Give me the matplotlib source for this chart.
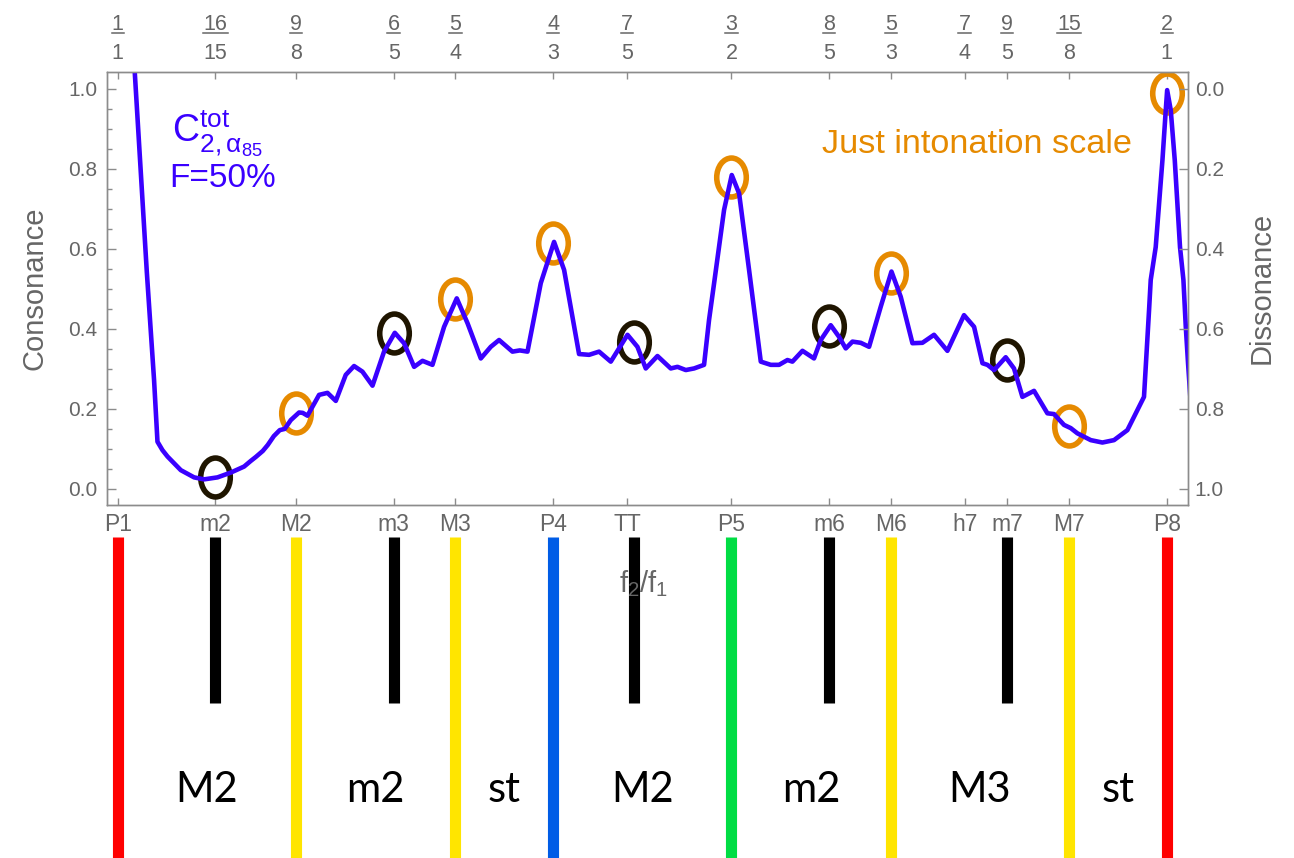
import numpy as np
import matplotlib
matplotlib.use('Agg')
import matplotlib.pyplot as plt
import matplotlib.transforms as transforms
from matplotlib.path import Path

plt.rcParams['font.family'] = ['Liberation Sans', 'DejaVu Sans']
plt.rcParams['mathtext.fontset'] = 'custom'
plt.rcParams['mathtext.rm'] = 'Liberation Sans'
plt.rcParams['mathtext.it'] = 'Liberation Sans:italic'

# total consonance curve, x in cents above f1
Cents = [16.0, 19.4, 33.2, 41.5, 45.4, 51.1, 56.9, 72.1, 87.3, 98.7,
         114.1, 129.3, 144.5, 152.1, 157.9, 165.9, 171.6, 178.5, 185.3, 191.0,
         197.9, 207.4, 211.6, 217.0, 230.3, 239.9, 249.4, 260.8, 270.3, 279.9,
         291.4, 304.6, 316.9, 327.5, 339.0, 348.6, 360.0, 373.3, 387.8, 400.1,
         415.3, 426.7, 436.2, 451.5, 459.9, 468.7, 483.9, 499.1, 510.6, 527.7,
         539.2, 550.6, 564.0, 583.1, 594.5, 604.0, 617.4, 632.6, 640.3, 649.8,
         659.3, 670.7, 676.4, 682.2, 693.6, 702.4, 710.8, 722.2, 735.6, 747.0,
         756.5, 766.1, 771.8, 783.3, 796.5, 804.2, 815.6, 825.1, 832.8, 840.5,
         850.0, 859.5, 872.8, 885.1, 895.7, 909.1, 920.5, 933.8, 949.1, 968.1,
         979.6, 989.2, 994.9, 1002.5, 1015.8, 1025.3, 1034.9, 1048.2, 1063.5, 1071.1,
         1082.5, 1090.2, 1097.8, 1113.1, 1126.4, 1139.7, 1155.0, 1174.0, 1179.8, 1181.7,
         1187.4, 1195.1, 1198.9, 1200.5, 1204.6, 1209.2, 1215.2, 1219.1, 1221.8, 1224.4,
         1227.5]
Consonance = [1.146, 1.041, 0.542, 0.272, 0.118, 0.097, 0.081, 0.047, 0.029, 0.024,
              0.029, 0.041, 0.056, 0.070, 0.080, 0.095, 0.110, 0.132, 0.147, 0.150,
              0.172, 0.191, 0.190, 0.183, 0.235, 0.240, 0.220, 0.285, 0.307, 0.293,
              0.258, 0.343, 0.390, 0.364, 0.305, 0.320, 0.310, 0.405, 0.476, 0.414,
              0.326, 0.355, 0.372, 0.343, 0.346, 0.343, 0.514, 0.617, 0.547, 0.337,
              0.335, 0.343, 0.318, 0.385, 0.355, 0.301, 0.332, 0.301, 0.305, 0.297,
              0.301, 0.310, 0.422, 0.514, 0.697, 0.784, 0.738, 0.547, 0.318, 0.310,
              0.310, 0.322, 0.318, 0.345, 0.326, 0.372, 0.409, 0.380, 0.351, 0.368,
              0.365, 0.355, 0.455, 0.543, 0.480, 0.364, 0.365, 0.385, 0.345, 0.434,
              0.405, 0.314, 0.310, 0.297, 0.329, 0.301, 0.230, 0.245, 0.189, 0.187,
              0.160, 0.152, 0.139, 0.122, 0.116, 0.122, 0.147, 0.230, 0.447, 0.522,
              0.604, 0.821, 0.946, 0.996, 0.946, 0.821, 0.604, 0.522, 0.405, 0.314,
              0.214]

# just intonation scale notes (orange) and the other intervals (black)
JustRatios = [9/8, 5/4, 4/3, 3/2, 5/3, 15/8, 2]
JustValues = [0.190, 0.474, 0.615, 0.779, 0.540, 0.157, 0.988]
OtherRatios = [16/15, 6/5, 45/32, 8/5, 9/5]
OtherValues = [0.029, 0.389, 0.366, 0.408, 0.323]

# axis ticks
TopNum = ['1', '16', '9', '6', '5', '4', '7', '3', '8', '5', '7', '9', '15', '2']
TopDen = ['1', '15', '8', '5', '4', '3', '5', '2', '5', '3', '4', '5', '8', '1']
BottomLabels = ['P1', 'm2', 'M2', 'm3', 'M3', 'P4', 'TT', 'P5', 'm6', 'M6', 'h7', 'm7', 'M7', 'P8']

# interval bars under the plot
BarRatios = [1, 16/15, 9/8, 6/5, 5/4, 4/3, 45/32, 3/2, 8/5, 5/3, 9/5, 15/8, 2]
BarColors = ['#ff0000', 'black', '#ffe500', 'black', '#ffe500', '#005ce6', 'black',
             '#00dd44', 'black', '#ffe500', 'black', '#ffe500', '#ff0000']
ScaleRatios = [1, 9/8, 5/4, 4/3, 3/2, 5/3, 15/8, 2]
StepNames = ['M2', 'm2', 'st', 'M2', 'm2', 'M3', 'st']


def ToCents (r):
    return 1200*np.log2(np.asarray(r, dtype=float))


W, H = 1294, 858
GRAY = '#666666'
FRAME = '#8c8c8c'
BLUE = '#3a00ff'
ORANGE = '#e68a00'
DARK = '#1f1500'

fig = plt.figure(figsize=(W/100, H/100), dpi=100)
AxL, AxR, AxT, AxB = 107.3, 1187.7, 71.7, 505
ax = fig.add_axes([AxL/W, 1-AxB/H, (AxR-AxL)/W, (AxB-AxT)/H])

# ellipse marker, a bit taller than wide
Circ = Path.unit_circle()
Ring = Path(Circ.vertices*[0.76, 1.0], Circ.codes)

ax.plot(ToCents(OtherRatios), OtherValues, linestyle='none', marker=Ring, ms=28,
        mfc='none', mec=DARK, mew=4, zorder=2)
ax.plot(ToCents(JustRatios), JustValues, linestyle='none', marker=Ring, ms=28,
        mfc='none', mec=ORANGE, mew=4, zorder=2)
ax.plot(Cents, Consonance, color=BLUE, lw=3.3, solid_joinstyle='round', zorder=3)

ax.set_xlim(-12, 1224)
ax.set_ylim(-0.040, 1.042)

TickCents = ToCents([int(n)/int(d) for n, d in zip(TopNum, TopDen)])
ax.set_xticks(TickCents)
ax.set_xticklabels(BottomLabels)
ax.tick_params(axis='x', direction='in', length=5, width=1, colors=FRAME,
               labelcolor=GRAY, labelsize=16.5, pad=6, top=True)
ax.set_yticks(np.arange(0, 1.01, 0.2))
ax.set_yticklabels(['%.1f' % v for v in np.arange(0, 1.01, 0.2)])
ax.set_yticks(np.arange(0, 1.001, 0.05), minor=True)
ax.tick_params(axis='y', which='major', direction='in', length=6.5, width=1,
               colors=FRAME, labelcolor=GRAY, labelsize=15, pad=7)
ax.tick_params(axis='y', which='minor', direction='in', length=3.6, width=1, colors=FRAME)
for s in ax.spines.values():
    s.set_color(FRAME)
    s.set_linewidth(1)

# dissonance = 1 - consonance on the right
ax2 = ax.twinx()
ax2.set_ylim(1.040, -0.042)
ax2.set_yticks(np.arange(0, 1.01, 0.2))
ax2.set_yticklabels(['%.1f' % v for v in np.arange(0, 1.01, 0.2)])
ax2.tick_params(axis='y', direction='in', length=6.5, width=1, colors=FRAME,
                labelcolor=GRAY, labelsize=15, pad=5)
for s in ax2.spines.values():
    s.set_color(FRAME)
    s.set_linewidth(1)

# fraction labels along the top
Blend = transforms.blended_transform_factory(ax.transData, fig.transFigure)
CentsPerPx = (1224 + 12)/(AxR - AxL)
for c, n, d in zip(TickCents, TopNum, TopDen):
    ax.text(c, 1-30/H, n, transform=Blend, ha='center', va='baseline',
            fontsize=15.5, color=GRAY)
    ax.text(c, 1-59.3/H, d, transform=Blend, ha='center', va='baseline',
            fontsize=15.5, color=GRAY)
    Half = 6.2*max(len(n), len(d))*CentsPerPx
    ax.plot([c-Half, c+Half], [1-32.5/H, 1-32.5/H], transform=Blend, clip_on=False,
            color=GRAY, lw=1.1)

fig.text(35/W, 1-288/H, 'Consonance', rotation=90, ha='center', va='center',
         fontsize=21, color=GRAY)
fig.text(1262/W, 1-288/H, 'Dissonance', rotation=90, ha='center', va='center',
         fontsize=21, color=GRAY)
fig.text(644/W, 1-592/H, r'$\mathregular{f_2/f_1}$', ha='center', va='baseline',
         fontsize=21, color=GRAY, zorder=5)

fig.text(172/W, 1-142/H, r'$\mathregular{C^{tot}_{2,\alpha_{85}}}$', ha='left',
         va='baseline', fontsize=27, color=BLUE)
fig.text(169/W, 1-187/H, 'F=50%', ha='left', va='baseline', fontsize=24, color=BLUE)
fig.text(822/W, 1-152.7/H, 'Just intonation scale', ha='left', va='baseline',
         fontsize=24.7, color=ORANGE)

# interval bars and step names, y counted in pixel rows from the top
axb = fig.add_axes([AxL/W, 0, (AxR-AxL)/W, (H-AxB)/H], zorder=-1)
axb.set_xlim(ax.get_xlim())
axb.set_ylim(H, AxB)
axb.axis('off')
Bottoms = [703 if c == 'black' else H for c in BarColors]
axb.vlines(ToCents(BarRatios), 537, Bottoms, colors=BarColors, lw=8)
ScaleCents = ToCents(ScaleRatios)
for i, name in enumerate(StepNames):
    Mid = 0.5*(ScaleCents[i] + ScaleCents[i+1])
    axb.text(Mid, 802, name, ha='center', va='baseline', fontsize=30,
             family='Lato', color='black')

fig.savefig('out.png', dpi=100)
